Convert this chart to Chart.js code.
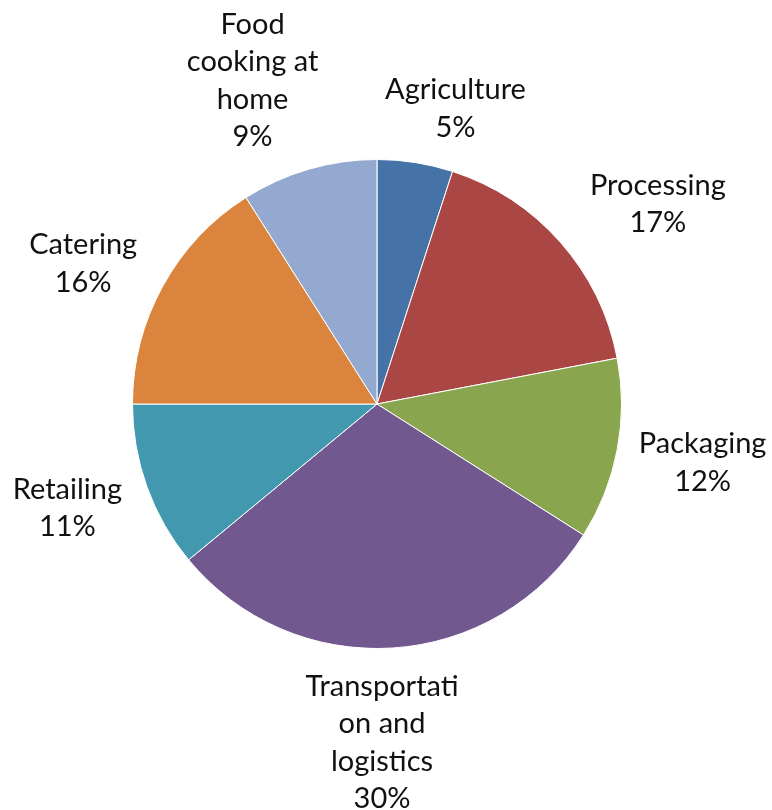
<!DOCTYPE html>
<html>
<head>
<meta charset="utf-8">
<script src="https://cdn.jsdelivr.net/npm/chart.js@4.4.1/dist/chart.umd.min.js"></script>
<style>
  html, body { margin: 0; padding: 0; background: #fff; }
  #wrap { width: 772px; height: 810px; }
</style>
</head>
<body>
<div id="wrap"><canvas id="energyPie" width="772" height="810"></canvas></div>
<script>
// sectors, clockwise from 12 o'clock
const categories = [
  ["Agriculture"],
  ["Processing"],
  ["Packaging"],
  ["Transportati", "on and", "logistics"],
  ["Retailing"],
  ["Catering"],
  ["Food", "cooking at", "home"]
];
const shares = [5, 17, 12, 30, 11, 16, 9];
const colors = ["#4572A7", "#AA4643", "#89A54E", "#71588F", "#4198AF", "#DB843D", "#93A9CF"];

// small hand tweaks for the outside labels (px)
const labelNudge = [[27, -3], [36, -4], [9, 3], [-16, 6], [-15, 4], [-20, 2], [-34, -3]];

const outsideLabels = {
  id: "outsideLabels",
  afterDatasetsDraw(chart) {
    const c = chart.ctx;
    const meta = chart.getDatasetMeta(0);
    const lineH = 37.5;
    const gap = 14;
    c.save();
    c.font = "29px Lato";
    c.fillStyle = "#111";
    c.textAlign = "center";
    c.textBaseline = "middle";
    meta.data.forEach((arc, i) => {
      const p = arc.getProps(["x", "y", "startAngle", "endAngle", "outerRadius"], true);
      const mid = (p.startAngle + p.endAngle) / 2;
      const dx = Math.cos(mid), dy = Math.sin(mid);
      const lines = chart.data.labels[i].concat([chart.data.datasets[0].data[i] + "%"]);
      const w = Math.max(...lines.map(l => c.measureText(l).width));
      const h = lines.length * lineH;
      const cx = p.x + dx * (p.outerRadius + gap) + dx * w / 2 + labelNudge[i][0];
      const cy = p.y + dy * (p.outerRadius + gap) + dy * h / 2 + labelNudge[i][1];
      lines.forEach((l, k) => {
        c.fillText(l, cx, cy - h / 2 + lineH * (k + 0.5));
      });
    });
    c.restore();
  }
};

new Chart(document.getElementById("energyPie"), {
  type: "pie",
  data: {
    labels: categories,
    datasets: [{
      data: shares,
      backgroundColor: colors,
      borderColor: "#ffffff",
      borderWidth: 1
    }]
  },
  options: {
    responsive: false,
    animation: false,
    layout: { padding: { left: 132, right: 150, top: 159, bottom: 161 } },
    plugins: {
      legend: { display: false },
      tooltip: { enabled: false }
    }
  },
  plugins: [outsideLabels]
});
</script>
</body>
</html>
